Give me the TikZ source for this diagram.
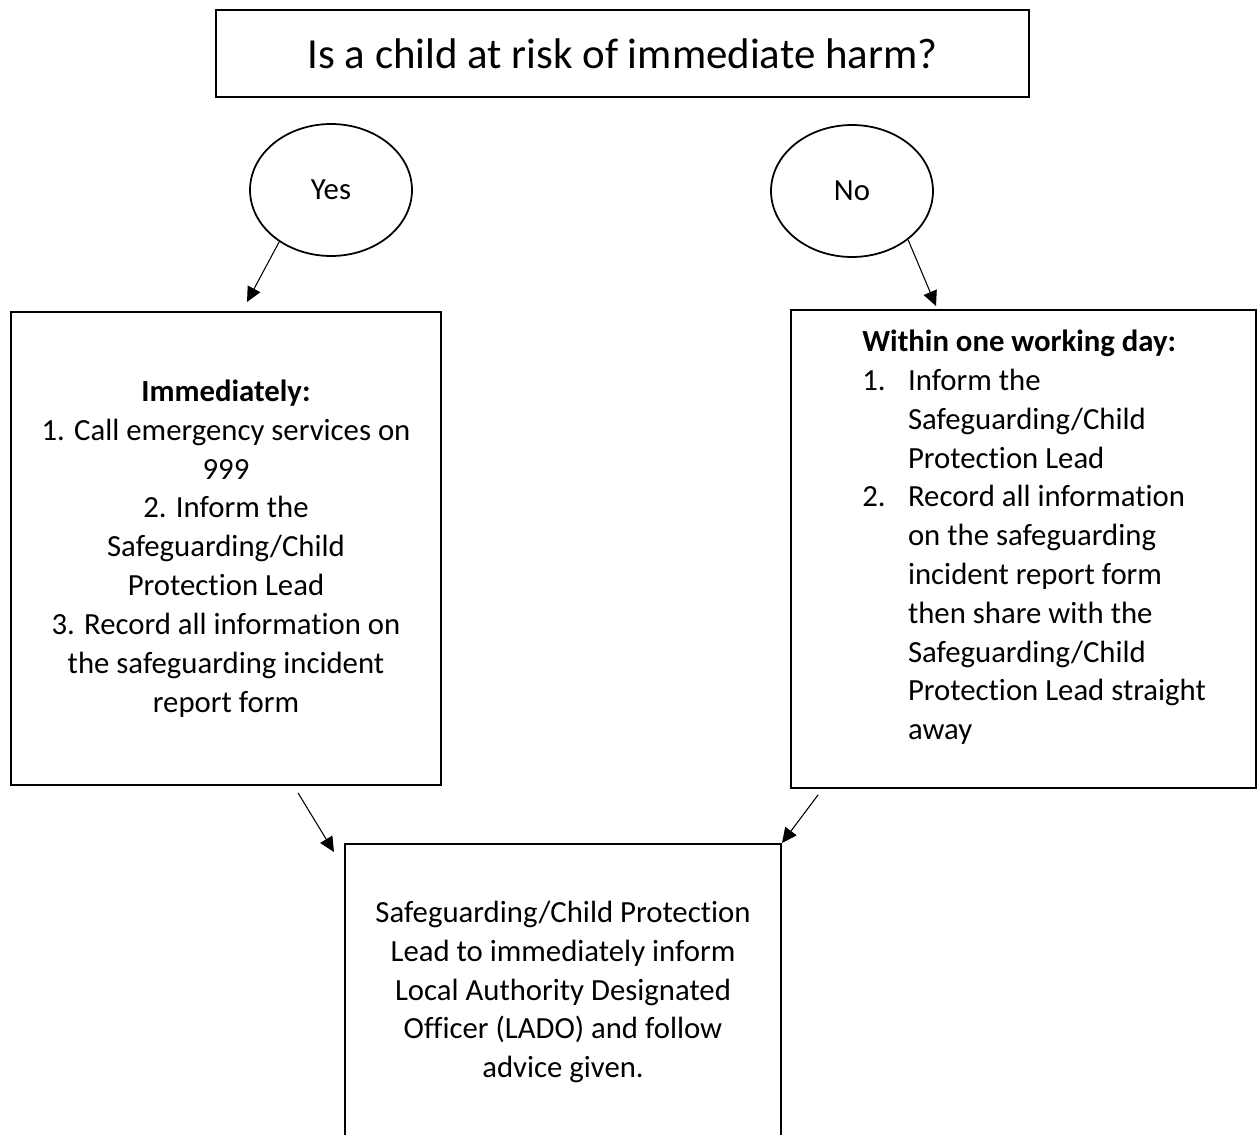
\documentclass[tikz,border=0pt]{standalone}
\usepackage{fontspec}
\setmainfont[Ligatures=NoCommon]{Carlito}
\usepackage{tikz}
\usetikzlibrary{arrows.meta,shapes.geometric}

\begin{document}
\begin{tikzpicture}[x=0.02cm,y=-0.02cm,
		box/.style={draw,line width=1.1pt,inner sep=0pt,font=\fontsize{17.5pt}{22.1pt}\selectfont},
		answer/.style={draw,ellipse,line width=1pt,inner sep=0pt,minimum width=3.24cm,minimum height=2.64cm,font=\fontsize{17.5pt}{22.1pt}\selectfont},
		arr/.style={-{Triangle[length=8.5pt,width=8pt]},line width=0.6pt}]
		\useasboundingbox (0,0) rectangle (1258,1135);
		\node (Q) [box,minimum width=16.26cm,minimum height=1.74cm,font=\fontsize{24.4pt}{29pt}\selectfont] at (622.5,53.5) {Is a child at risk of immediate harm?};
		\node (Y) [answer] at (331,190) {Yes};
		\node (N) [answer] at (852,191) {No};
		\node (I) [box,minimum width=8.6cm,minimum height=9.46cm,align=center] at (226,548.5) {\textbf{Immediately:}\\1. Call emergency services on\\999\\2. Inform the\\Safeguarding/Child\\Protection Lead\\3. Record all information on\\the safeguarding incident\\report form};
		\node (W) [box,minimum width=9.3cm,minimum height=9.56cm] at (1023.5,549) {};
		\node (WT) [anchor=north west,inner sep=0pt,font=\fontsize{17.5pt}{22.1pt}\selectfont] at (862,324) {\begin{tabular}{@{}p{26pt}@{}l@{}}
			\multicolumn{2}{@{}l@{}}{\textbf{Within one working day:}}\\
			1. & Inform the\\
			 & Safeguarding/Child\\
			 & Protection Lead\\
			2. & Record all information\\
			 & on the safeguarding\\
			 & incident report form\\
			 & then share with the\\
			 & Safeguarding/Child\\
			 & Protection Lead straight\\
			 & away
		\end{tabular}};
		\node (O) [box,minimum width=8.72cm,minimum height=5.92cm,align=center] at (563,992) {Safeguarding/Child Protection\\Lead to immediately inform\\Local Authority Designated\\Officer (LADO) and follow\\advice given.};
		% arrow ends
		\coordinate (Yend) at (247,302);
		\coordinate (Nend) at (936,306);
		\coordinate (Iend) at (334,852);
		\coordinate (Wend) at (782,843);
		\draw[arr] (Y.-135.5) -- (Yend);
		\draw[arr] (N.-41) -- (Nend);
		\draw[arr] ([xshift=5.76cm,yshift=-0.14cm]I.south west) -- (Iend);
		\draw[arr] ([xshift=0.56cm,yshift=-0.12cm]W.south west) -- (Wend);
		\end{tikzpicture}
\end{document}
